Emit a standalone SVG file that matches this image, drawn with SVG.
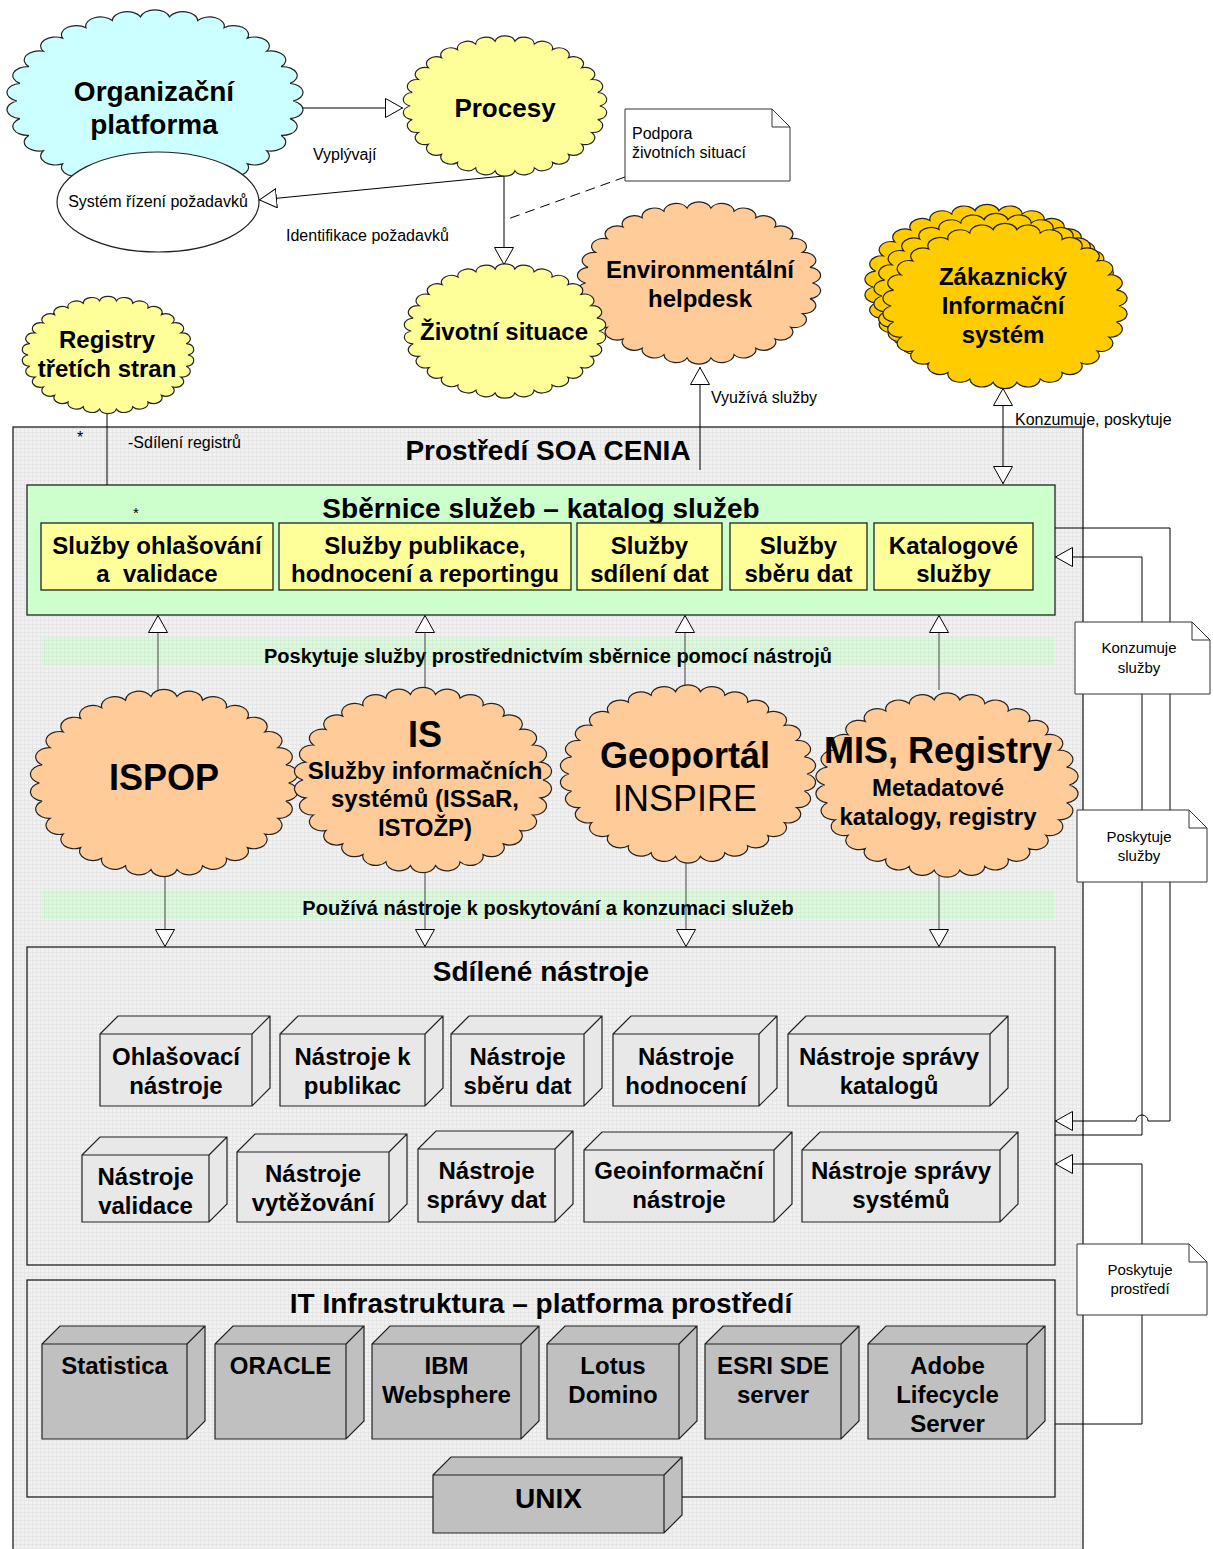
<svg xmlns="http://www.w3.org/2000/svg" width="1213" height="1549" viewBox="0 0 1213 1549">
<defs>
<style>
text{font-family:"Liberation Sans",Arial,sans-serif;fill:#000}
.b{font-weight:bold}
.m{text-anchor:middle}
.s15{font-size:15px}
.s16{font-size:16px}
.s20{font-size:20px}
.s24{font-size:24px}
.s26{font-size:26px}
.s28{font-size:28px}
.s36{font-size:36px}
.ln{fill:none;stroke:#000;stroke-width:1}
.lg{fill:none;stroke:#444;stroke-width:1}
.cont{fill:url(#grid);stroke:#222;stroke-width:1.3}
.ybox{fill:#ffff99;stroke:#222;stroke-width:1.3}
.tool{fill:#e8e8e8;stroke:#222;stroke-width:1.2}
.infra{fill:#c0c0c0;stroke:#222;stroke-width:1.2}
.note{fill:#fff;stroke:#333;stroke-width:1}
.band{fill:url(#ggrid)}
.cyan{fill:#ccffff}
.yel{fill:#ffff99}
.ora{fill:#ffcc99}
.gold{fill:#ffcc00}
</style>
<pattern id="grid" width="4" height="4" patternUnits="userSpaceOnUse"><rect width="4" height="4" fill="#f1f1f1"/><path d="M0,0.5H4M0.5,0V4" stroke="#e6e6e6" stroke-width="1"/></pattern>
<pattern id="ggrid" width="4" height="4" patternUnits="userSpaceOnUse"><rect width="4" height="4" fill="#dff7df"/><path d="M0,0.5H4M0.5,0V4" stroke="#d3efd3" stroke-width="1"/></pattern>
<path id="cloud" stroke="#222" stroke-width="1.2" vector-effect="non-scaling-stroke" d="M93,0 A10,10 0 0 1 90.97,19.34 A10,10 0 0 1 84.96,37.83 A10,10 0 0 1 75.24,54.66 A10,10 0 0 1 62.23,69.11 A10,10 0 0 1 46.5,80.54 A10,10 0 0 1 28.74,88.45 A10,10 0 0 1 9.72,92.49 A10,10 0 0 1 -9.72,92.49 A10,10 0 0 1 -28.74,88.45 A10,10 0 0 1 -46.5,80.54 A10,10 0 0 1 -62.23,69.11 A10,10 0 0 1 -75.24,54.66 A10,10 0 0 1 -84.96,37.83 A10,10 0 0 1 -90.97,19.34 A10,10 0 0 1 -93,0 A10,10 0 0 1 -90.97,-19.34 A10,10 0 0 1 -84.96,-37.83 A10,10 0 0 1 -75.24,-54.66 A10,10 0 0 1 -62.23,-69.11 A10,10 0 0 1 -46.5,-80.54 A10,10 0 0 1 -28.74,-88.45 A10,10 0 0 1 -9.72,-92.49 A10,10 0 0 1 9.72,-92.49 A10,10 0 0 1 28.74,-88.45 A10,10 0 0 1 46.5,-80.54 A10,10 0 0 1 62.23,-69.11 A10,10 0 0 1 75.24,-54.66 A10,10 0 0 1 84.96,-37.83 A10,10 0 0 1 90.97,-19.34 A10,10 0 0 1 93,0 Z"/>
<marker id="tri" viewBox="0 0 18 20" refX="18" refY="10" markerWidth="18" markerHeight="20" markerUnits="userSpaceOnUse" orient="auto-start-reverse"><path d="M0.5,0.5 L17.5,10 L0.5,19.5 Z" fill="#fff" stroke="#000" stroke-width="1"/></marker>
</defs>

<rect width="1213" height="1549" fill="#fff"/>

<!-- containers -->
<g id="soa">
<rect class="cont" x="13" y="427" width="1070" height="1140"/>
<text class="b m s28" x="548" y="460">Prostředí SOA CENIA</text>
<text class="s16" x="77" y="443">*</text>
<text class="s16" x="128" y="448">-Sdílení registrů</text>
</g>

<g id="sbernice">
<rect x="27" y="485" width="1028" height="130" fill="#ccffcc" stroke="#222" stroke-width="1.3"/>
<text class="b m s28" x="541" y="518">Sběrnice služeb – katalog služeb</text>
<text class="s15" x="133" y="518">*</text>
</g>
<g id="sl-ohlasovani"><rect class="ybox" x="41" y="523" width="232" height="67"/><text class="b m s24" x="157" y="554">Služby ohlašování</text><text class="b m s24" x="157" y="582">a&#160; validace</text></g>
<g id="sl-publikace"><rect class="ybox" x="279" y="523" width="292" height="67"/><text class="b m s24" x="425" y="554">Služby publikace,</text><text class="b m s24" x="425" y="582">hodnocení a reportingu</text></g>
<g id="sl-sdileni"><rect class="ybox" x="577" y="523" width="145" height="67"/><text class="b m s24" x="649.5" y="554">Služby</text><text class="b m s24" x="649.5" y="582">sdílení dat</text></g>
<g id="sl-sberu"><rect class="ybox" x="730" y="523" width="137" height="67"/><text class="b m s24" x="798.5" y="554">Služby</text><text class="b m s24" x="798.5" y="582">sběru dat</text></g>
<g id="sl-katalog"><rect class="ybox" x="874" y="523" width="159" height="67"/><text class="b m s24" x="953.5" y="554">Katalogové</text><text class="b m s24" x="953.5" y="582">služby</text></g>

<g id="band1"><rect class="band" x="42" y="637" width="1013" height="28"/><text class="b m s20" x="548" y="663">Poskytuje služby prostřednictvím sběrnice pomocí nástrojů</text></g>
<g id="band2"><rect class="band" x="42" y="890" width="1013" height="29"/><text class="b m s20" x="548" y="915">Používá nástroje k poskytování a konzumaci služeb</text></g>

<g id="sdilene">
<rect class="cont" x="27" y="947" width="1028" height="318"/>
<text class="b m s28" x="541" y="981">Sdílené nástroje</text>
</g>
<g id="it">
<rect class="cont" x="27" y="1280" width="1028" height="217"/>
<text class="b m s28" x="541" y="1313">IT Infrastruktura – platforma prostředí</text>
</g>

<!-- connectors -->
<g id="connectors">
<path class="ln" d="M303,108 H403" marker-end="url(#tri)"/>
<text class="s16" x="313" y="160">Vyplývají</text>
<path class="ln" d="M504,176 L259,200" marker-end="url(#tri)"/>
<text class="s16" x="286" y="241">Identifikace požadavků</text>
<path class="ln" d="M504,176 V265" marker-end="url(#tri)"/>
<path class="ln" d="M625,177 L505,220" stroke-dasharray="10,6"/>
<path class="ln" d="M700,470 V367" marker-end="url(#tri)"/>
<text class="s16" x="711" y="403">Využívá služby</text>
<path class="ln" d="M1003,484 V388" marker-start="url(#tri)" marker-end="url(#tri)"/>
<text class="s16" x="1015" y="425">Konzumuje, poskytuje</text>
<path class="ln" d="M107,413 V485"/>
<path class="lg" d="M158,693 V615" marker-end="url(#tri)"/>
<path class="lg" d="M425,690 V615" marker-end="url(#tri)"/>
<path class="lg" d="M685,688 V615" marker-end="url(#tri)"/>
<path class="lg" d="M939,690 V615" marker-end="url(#tri)"/>
<path class="lg" d="M165,870 V947" marker-end="url(#tri)"/>
<path class="lg" d="M425,868 V947" marker-end="url(#tri)"/>
<path class="lg" d="M686,860 V947" marker-end="url(#tri)"/>
<path class="lg" d="M939,872 V947" marker-end="url(#tri)"/>
<path class="ln" d="M1055,528 H1170 V1121 H1148 A6,6 0 0 0 1136,1121 H1055" marker-end="url(#tri)"/>
<path class="ln" d="M1055,1135 H1142 V557 H1055" marker-end="url(#tri)"/>
<path class="ln" d="M1055,1424 H1142 V1164 H1055" marker-end="url(#tri)"/>
</g>

<!-- top clouds -->
<g id="organizacni-platforma">
<use href="#cloud" class="cyan" transform="translate(155,101) scale(1.485,0.91)"/>
<text class="b m s28" x="154" y="101">Organizační</text>
<text class="b m s28" x="154" y="134">platforma</text>
</g>
<g id="system-rizeni">
<ellipse cx="158" cy="202" rx="101" ry="50" fill="#fff" stroke="#222" stroke-width="1.2"/>
<text class="s16 m" x="158" y="207">Systém řízení požadavků</text>
</g>
<g id="procesy">
<use href="#cloud" class="yel" transform="translate(505,106) scale(1.02,0.70)"/>
<text class="b m s26" x="505" y="117">Procesy</text>
</g>
<g id="note-podpora">
<path class="note" d="M625,109 H772 L790,127 V181 H625 Z M772,109 V127 H790"/>
<text class="s16" x="632" y="139">Podpora</text>
<text class="s16" x="632" y="158">životních situací</text>
</g>
<g id="env-helpdesk">
<use href="#cloud" class="ora" transform="translate(699,283) scale(1.22,0.81)"/>
<text class="b m s24" x="700" y="278">Environmentální</text>
<text class="b m s24" x="700" y="307">helpdesk</text>
</g>
<g id="zivotni-situace">
<use href="#cloud" class="yel" transform="translate(505,331) scale(1.01,0.67)"/>
<text class="b m s24" x="504" y="340">Životní situace</text>
</g>
<g id="zakaznicky-is">
<use href="#cloud" class="gold" transform="translate(987,287) scale(1.225,0.825)"/>
<use href="#cloud" class="gold" transform="translate(996,296) scale(1.225,0.825)"/>
<use href="#cloud" class="gold" transform="translate(1005,306) scale(1.225,0.825)"/>
<text class="b m s24" x="1003" y="285">Zákaznický</text>
<text class="b m s24" x="1003" y="314">Informační</text>
<text class="b m s24" x="1003" y="343">systém</text>
</g>
<g id="registry-tretich-stran">
<use href="#cloud" class="yel" transform="translate(108,355) scale(0.86,0.585)"/>
<text class="b m s24" x="107" y="348">Registry</text>
<text class="b m s24" x="107" y="377">třetích stran</text>
</g>

<!-- middle clouds -->
<g id="ispop">
<use href="#cloud" class="ora" transform="translate(164,783) scale(1.34,0.935)"/>
<text class="b m s36" x="164" y="790">ISPOP</text>
</g>
<g id="is">
<use href="#cloud" class="ora" transform="translate(423,780) scale(1.29,0.925)"/>
<text class="b m s36" x="425" y="747">IS</text>
<text class="b m s24" x="425" y="779">Služby informačních</text>
<text class="b m s24" x="425" y="807">systémů (ISSaR,</text>
<text class="b m s24" x="425" y="836">ISTOŽP)</text>
</g>
<g id="geoportal">
<use href="#cloud" class="ora" transform="translate(688,774) scale(1.28,0.89)"/>
<text class="b m s36" x="685" y="768">Geoportál</text>
<text class="m s36" x="685" y="811">INSPIRE</text>
</g>
<g id="mis-registry">
<use href="#cloud" class="ora" transform="translate(947,785) scale(1.315,0.92)"/>
<text class="b m s36" x="938" y="763">MIS, Registry</text>
<text class="b m s24" x="938" y="796">Metadatové</text>
<text class="b m s24" x="938" y="825">katalogy, registry</text>
</g>

<!-- tools -->
<g id="t-ohlasovaci"><path class="tool" d="M100,1034 L118,1016 H270 V1088 L252,1106 H100 Z M100,1034 H252 V1106 M252,1034 L270,1016"/><text class="b m s24" x="176" y="1065">Ohlašovací</text><text class="b m s24" x="176" y="1094">nástroje</text></g>
<g id="t-publikac"><path class="tool" d="M280,1034 L298,1016 H443 V1088 L425,1106 H280 Z M280,1034 H425 V1106 M425,1034 L443,1016"/><text class="b m s24" x="352.5" y="1065">Nástroje k</text><text class="b m s24" x="352.5" y="1094">publikac</text></g>
<g id="t-sberu"><path class="tool" d="M451,1034 L469,1016 H602 V1088 L584,1106 H451 Z M451,1034 H584 V1106 M584,1034 L602,1016"/><text class="b m s24" x="517.5" y="1065">Nástroje</text><text class="b m s24" x="517.5" y="1094">sběru dat</text></g>
<g id="t-hodnoceni"><path class="tool" d="M613,1034 L631,1016 H777 V1088 L759,1106 H613 Z M613,1034 H759 V1106 M759,1034 L777,1016"/><text class="b m s24" x="686" y="1065">Nástroje</text><text class="b m s24" x="686" y="1094">hodnocení</text></g>
<g id="t-katalogu"><path class="tool" d="M788,1034 L806,1016 H1008 V1088 L990,1106 H788 Z M788,1034 H990 V1106 M990,1034 L1008,1016"/><text class="b m s24" x="889" y="1065">Nástroje správy</text><text class="b m s24" x="889" y="1094">katalogů</text></g>
<g id="t-validace"><path class="tool" d="M82,1155 L100,1137 H227 V1204 L209,1222 H82 Z M82,1155 H209 V1222 M209,1155 L227,1137"/><text class="b m s24" x="145.5" y="1185">Nástroje</text><text class="b m s24" x="145.5" y="1214">validace</text></g>
<g id="t-vytezovani"><path class="tool" d="M237,1152 L255,1134 H407 V1204 L389,1222 H237 Z M237,1152 H389 V1222 M389,1152 L407,1134"/><text class="b m s24" x="313" y="1182">Nástroje</text><text class="b m s24" x="313" y="1211">vytěžování</text></g>
<g id="t-spravy-dat"><path class="tool" d="M418,1149 L436,1131 H573 V1204 L555,1222 H418 Z M418,1149 H555 V1222 M555,1149 L573,1131"/><text class="b m s24" x="486.5" y="1179">Nástroje</text><text class="b m s24" x="486.5" y="1208">správy dat</text></g>
<g id="t-geoinformacni"><path class="tool" d="M584,1150 L602,1132 H792 V1204 L774,1222 H584 Z M584,1150 H774 V1222 M774,1150 L792,1132"/><text class="b m s24" x="679" y="1179">Geoinformační</text><text class="b m s24" x="679" y="1208">nástroje</text></g>
<g id="t-systemu"><path class="tool" d="M802,1150 L820,1132 H1018 V1204 L1000,1222 H802 Z M802,1150 H1000 V1222 M1000,1150 L1018,1132"/><text class="b m s24" x="901" y="1179">Nástroje správy</text><text class="b m s24" x="901" y="1208">systémů</text></g>

<!-- infrastructure -->
<g id="i-statistica"><path class="infra" d="M42,1344 L60,1326 H205 V1421 L187,1439 H42 Z M42,1344 H187 V1439 M187,1344 L205,1326"/><text class="b m s24" x="114.5" y="1374">Statistica</text></g>
<g id="i-oracle"><path class="infra" d="M215,1344 L233,1326 H364 V1421 L346,1439 H215 Z M215,1344 H346 V1439 M346,1344 L364,1326"/><text class="b m s24" x="280.5" y="1374">ORACLE</text></g>
<g id="i-ibm"><path class="infra" d="M372,1344 L390,1326 H539 V1421 L521,1439 H372 Z M372,1344 H521 V1439 M521,1344 L539,1326"/><text class="b m s24" x="446.5" y="1374">IBM</text><text class="b m s24" x="446.5" y="1403">Websphere</text></g>
<g id="i-lotus"><path class="infra" d="M547,1344 L565,1326 H697 V1421 L679,1439 H547 Z M547,1344 H679 V1439 M679,1344 L697,1326"/><text class="b m s24" x="613" y="1374">Lotus</text><text class="b m s24" x="613" y="1403">Domino</text></g>
<g id="i-esri"><path class="infra" d="M705,1344 L723,1326 H859 V1421 L841,1439 H705 Z M705,1344 H841 V1439 M841,1344 L859,1326"/><text class="b m s24" x="773" y="1374">ESRI SDE</text><text class="b m s24" x="773" y="1403">server</text></g>
<g id="i-adobe"><path class="infra" d="M868,1344 L886,1326 H1045 V1421 L1027,1439 H868 Z M868,1344 H1027 V1439 M1027,1344 L1045,1326"/><text class="b m s24" x="947.5" y="1374">Adobe</text><text class="b m s24" x="947.5" y="1403">Lifecycle</text><text class="b m s24" x="947.5" y="1432">Server</text></g>
<g id="i-unix"><path class="infra" d="M433,1475 L451,1457 H682 V1515 L664,1533 H433 Z M433,1475 H664 V1533 M664,1475 L682,1457"/><text class="b m s28" x="548.5" y="1508">UNIX</text></g>

<!-- notes on the right -->
<g id="note-konzumuje">
<path class="note" d="M1075,622 H1192 L1210,640 V694 H1075 Z M1192,622 V640 H1210"/>
<text class="s15 m" x="1139" y="653">Konzumuje</text>
<text class="s15 m" x="1139" y="673">služby</text>
</g>
<g id="note-poskytuje-sluzby">
<path class="note" d="M1077,810 H1189 L1207,828 V882 H1077 Z M1189,810 V828 H1207"/>
<text class="s15 m" x="1139" y="842">Poskytuje</text>
<text class="s15 m" x="1139" y="861">služby</text>
</g>
<g id="note-poskytuje-prostredi">
<path class="note" d="M1077,1244 H1189 L1207,1262 V1315 H1077 Z M1189,1244 V1262 H1207"/>
<text class="s15 m" x="1140" y="1275">Poskytuje</text>
<text class="s15 m" x="1140" y="1294">prostředí</text>
</g>
</svg>
